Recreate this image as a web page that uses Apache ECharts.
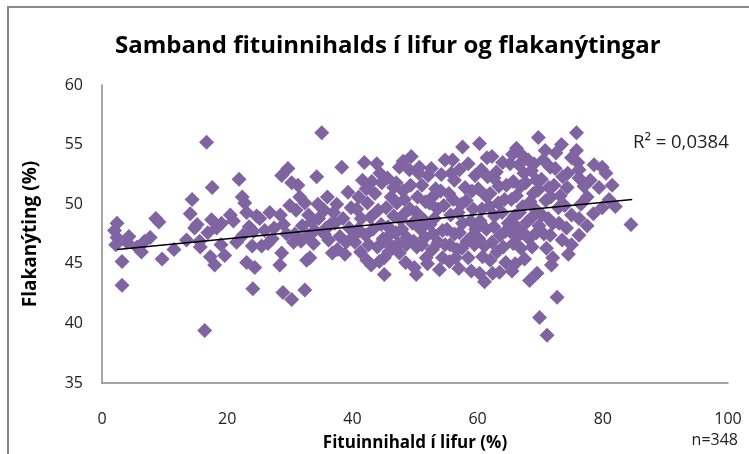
<html>
    <head>
        <meta charset="utf-8">
        <title></title>
        <script src="https://cdn.jsdelivr.net/npm/echarts@6/dist/echarts.min.js"></script>
        <style>
            body{margin:0;background:#fff;}
        </style>
    </head>
    <body>
        <div id="main" style="width:749px;height:454px;"></div>
    </body>
</html>

<script>
    // fituinnihald (%) , flakanýting (%)  - lesið af myndinni
    var samples=[
        [2.4,48.4],[2.4,47.2],[2.2,46.6],[4.0,46.8],[4.3,47.3],[3.2,45.2],[3.2,43.2],[2.0,47.8],
        [5.6,46.4],[6.3,46.0],[7.7,47.2],[8.6,48.8],[9.1,48.5],[9.6,45.4],[6.8,46.9],
        [14.4,50.4],[14.1,49.2],[13.5,47.0],[11.5,46.2],[14.8,48.0],
        [16.7,55.2],[17.6,51.4],[17.5,48.7],[19.1,48.4],[18.3,48.0],[15.2,48.3],[16.9,47.6],
        [15.7,46.4],[15.6,46.9],[19.6,45.7],[18.0,44.9],[16.4,39.4],[19.0,46.6],[17.3,45.6],
        [21.9,52.1],[22.4,50.6],[22.8,50.1],[23.1,49.3],[24.7,49.0],[23.5,48.1],[24.2,47.7],
        [21.0,48.6],[23.1,45.1],[24.4,44.7],[24.1,42.9],[24.0,46.5],[22.5,47.4],[20.5,49.1],[21.5,46.8],
        [29.7,53.0],[28.7,52.4],[26.8,49.3],[28.5,49.1],[29.0,48.3],[27.5,48.0],[25.5,46.5],[26.5,46.7],
        [28.7,45.9],[28.4,44.9],[28.9,42.6],[30.0,49.9],[26.0,47.8],[27.2,47.1],[29.5,47.5],[25.2,48.8],
        [30.3,51.8],[31.3,51.6],[32.4,50.1],[30.3,42.0],[32.4,42.8],[32.7,45.3],[33.2,45.5],[34.3,52.3],
        [30.6,46.8],[31.8,46.9],[33.5,48.5],[34.0,47.8],[31.0,49.5],[33.0,49.1],[34.6,48.8],[30.8,47.5],
        [32.0,48.2],[33.8,46.7],[34.5,50.0],[31.6,50.6],[32.9,47.4],
        [35.1,56.0],[38.3,53.1],[36.8,45.9],[37.6,46.2],[36.0,50.6],[37.0,49.3],[38.5,48.8],[39.5,48.0],
        [36.5,48.3],[35.5,47.5],[38.0,47.3],[39.0,46.8],[35.5,49.5],[37.5,50.0],[39.8,49.7],[36.2,47.0],
        [38.8,45.8],[39.3,51.0],[35.8,48.0],[37.2,48.4],
        [41.9,53.5],[43.9,53.4],[41.6,52.0],[44.7,51.8],[40.4,46.8],[42.3,45.3],[43.0,44.9],[44.3,45.2],
        [41.0,50.6],[42.4,50.1],[43.6,50.9],[44.1,49.5],[40.7,49.6],[41.4,48.8],[42.9,48.9],[43.3,47.9],
        [44.6,48.3],[40.9,47.9],[42.1,47.4],[42.6,46.6],[44.0,46.4],[44.9,47.1],[40.2,47.3],[41.3,46.0],
        [42.2,51.3],[43.1,51.9],[44.4,52.6],
        [49.4,54.0],[47.5,53.1],[49.1,52.9],[47.0,51.8],[45.1,44.1],[45.1,45.5],[46.4,46.4],[47.5,45.9],
        [48.6,46.6],[49.9,44.7],[46.2,50.6],[47.1,50.1],[48.3,50.4],[49.2,49.6],[45.4,49.7],[46.6,49.0],
        [47.7,48.7],[48.3,49.2],[49.6,48.4],[45.7,48.1],[46.9,47.6],[47.9,47.9],[48.7,47.2],[49.8,46.9],
        [45.3,46.9],[46.1,47.5],[47.3,46.7],[48.1,51.1],[49.3,51.6],[45.6,52.2],[46.6,51.4],[48.1,53.6],
        [45.8,46.0],[48.5,45.1],
        [50.7,53.1],[52.6,53.0],[50.2,44.1],[51.8,45.5],[52.8,46.2],[54.4,45.5],[53.9,44.5],[50.4,50.6],
        [51.7,50.2],[52.3,50.1],[53.6,49.6],[54.6,49.9],[50.2,49.3],[51.4,48.7],[52.4,48.3],[53.1,48.8],
        [54.4,47.8],[50.9,47.9],[51.6,47.2],[52.9,47.5],[53.7,46.8],[54.8,46.6],[50.3,46.4],[51.1,51.6],
        [52.1,52.4],[53.3,51.3],[54.2,52.5],[50.6,52.6],[53.0,50.7],[54.1,51.1],[51.1,46.6],[52.0,45.0],
        [54.8,53.7],
        [57.6,54.8],[57.1,52.9],[56.3,52.0],[55.5,45.2],[56.5,45.5],[57.5,46.3],[58.5,45.5],[59.5,46.6],
        [55.4,50.9],[56.1,50.4],[57.4,50.0],[58.2,50.3],[59.3,49.6],[55.7,49.1],[56.9,49.3],[57.6,48.4],
        [58.9,48.6],[59.7,47.9],[55.1,47.9],[56.3,47.5],[57.1,47.6],[58.3,46.9],[59.1,47.3],[55.6,46.6],
        [56.7,46.2],[58.0,51.4],[59.1,51.1],[55.8,52.6],[59.6,52.4],[58.5,53.4],[57.0,44.6],[59.0,44.4],
        [56.0,53.7],
        [60.3,55.1],[60.3,44.2],[61.1,43.5],[62.4,44.2],[63.5,44.3],[62.3,54.0],[64.0,53.5],[65.6,54.2],
        [60.6,52.9],[61.6,52.3],[62.6,52.2],[63.4,51.5],[64.6,51.6],[60.1,51.3],[61.3,50.7],[62.0,50.9],
        [63.3,50.1],[64.3,50.4],[60.7,49.6],[61.9,49.8],[62.7,49.0],[63.9,49.3],[64.9,48.4],[60.4,48.6],
        [61.4,47.9],[62.6,48.1],[63.6,47.4],[64.4,47.7],[60.2,47.1],[61.1,46.5],[62.3,46.8],[63.1,46.0],
        [64.1,46.4],[60.8,45.6],[62.0,45.3],[64.5,45.1],[61.5,53.9],[63.0,52.7],
        [66.2,54.7],[69.7,55.6],[68.7,46.4],[68.3,43.6],[69.5,44.2],[69.9,40.5],[65.2,53.4],[66.6,53.3],
        [67.4,52.6],[68.6,52.8],[69.4,52.0],[65.7,51.9],[66.9,51.5],[67.7,51.8],[68.9,50.9],[69.7,51.2],
        [65.4,50.4],[66.2,50.7],[67.2,49.8],[68.4,50.2],[69.2,49.6],[65.9,49.0],[66.7,49.3],[67.9,48.5],
        [68.7,48.9],[69.8,48.2],[65.2,47.7],[66.4,47.3],[67.3,47.6],[68.2,47.1],[69.4,47.6],[65.7,46.7],
        [66.9,46.3],[67.5,45.4],[66.0,45.0],[65.5,44.4],[67.1,54.1],[68.1,53.7],[69.0,53.4],[66.1,48.2],
        [71.0,46.3],[71.8,44.9],[72.7,42.2],[71.1,39.0],[73.4,55.0],[75.0,53.9],[74.3,51.4],[72.0,48.4],
        [73.0,48.4],[75.0,49.1],[75.0,46.6],[70.5,53.7],[71.6,53.1],[72.4,53.0],[73.6,52.3],[74.4,52.6],
        [70.2,52.1],[71.4,51.4],[72.2,51.6],[73.2,50.7],[70.9,50.3],[71.7,50.6],[72.9,49.7],[73.9,49.9],
        [70.3,49.1],[71.3,48.8],[74.2,48.0],[70.6,47.5],[71.6,47.4],[73.5,47.0],[72.0,45.5],[74.5,45.8],
        [70.8,54.5],[72.5,54.3],
        [75.8,56.0],[75.8,54.5],[78.6,53.3],[79.9,53.1],[79.4,51.4],[79.9,49.7],[77.5,50.6],[76.2,52.2],
        [76.2,52.9],[76.2,48.8],[76.2,47.4],[77.0,51.5],[78.0,52.0],[76.5,50.0],[78.5,49.2],[77.5,48.2],
        [76.0,53.5],
        [80.5,52.6],[81.0,50.4],[84.5,48.3],[81.5,51.6],[82.0,49.8]
    ];

    // leitnilína (endapunktar lesnir af myndinni)
    var trendLine=[[2.4,46.2],[84.7,50.4]];

    var xTicks=[0,20,40,60,80,100];
    var yTicks=[35,40,45,50,55,60];

    window.onload=function(){
        var myChart=echarts.init(document.getElementById('main'));

        var font='"Open Sans", sans-serif';

        var option={
            animation:false,
            title:{
                text:'Samband fituinnihalds í lifur og flakanýtingar',
                left:110,
                top:29,
                textStyle:{fontFamily:font,fontSize:24,fontWeight:'bold',color:'#000'}
            },
            graphic:[
                {type:'rect',shape:{x:8,y:7,width:900,height:600},style:{fill:'none',stroke:'#8a8a8a',lineWidth:2}},
                {type:'text',left:633,top:133,style:{text:'R² = 0,0384',fontFamily:font,fontSize:18.5,fill:'#222'}},
                {type:'text',right:11,top:432,style:{text:'n=348',fontFamily:font,fontSize:16,fill:'#222'}}
            ],
            grid:{left:102,right:21,top:85,bottom:71,outerBoundsMode:'none'},
            xAxis:{
                type:'value',
                min:xTicks[0],
                max:xTicks[xTicks.length-1],
                interval:20,
                name:'Fituinnihald í lifur (%)',
                nameLocation:'middle',
                nameGap:52,
                nameTextStyle:{fontFamily:font,fontSize:17,fontWeight:'bold',color:'#000'},
                axisLine:{lineStyle:{color:'#888',width:1.5}},
                axisTick:{show:false},
                splitLine:{show:false},
                axisLabel:{margin:28,fontFamily:font,fontSize:16,color:'#222'}
            },
            yAxis:{
                type:'value',
                min:yTicks[0],
                max:yTicks[yTicks.length-1],
                interval:5,
                name:'Flakanýting (%)',
                nameLocation:'middle',
                nameGap:62,
                nameTextStyle:{fontFamily:font,fontSize:19,fontWeight:'bold',color:'#000'},
                axisLine:{show:true,lineStyle:{color:'#888',width:1.5}},
                axisTick:{show:false},
                splitLine:{show:false},
                axisLabel:{margin:19,fontFamily:font,fontSize:16,color:'#222'}
            },
            series:[{
                name:'Flakanýting',
                type:'scatter',
                symbol:'diamond',
                symbolSize:15,
                itemStyle:{color:'#8064a2',opacity:1},
                data:samples
            },{
                name:'Leitni',
                type:'line',
                showSymbol:false,
                symbol:'none',
                lineStyle:{color:'#000',width:1.5},
                data:trendLine
            }]
        };

        myChart.setOption(option);
    }
</script>
